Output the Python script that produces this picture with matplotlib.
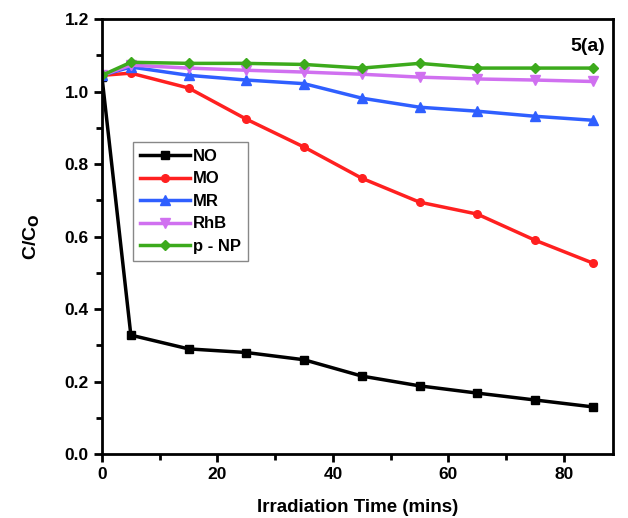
import matplotlib.pyplot as plt
from matplotlib.ticker import MultipleLocator

plt.rcParams['font.family'] = ['Liberation Sans', 'DejaVu Sans']
plt.rcParams['font.weight'] = 'bold'

tiempo = [0, 5, 15, 25, 35, 45, 55, 65, 75, 85]

no = [1.04, 0.328, 0.29, 0.28, 0.26, 0.215, 0.188, 0.168, 0.149, 0.13]
mo = [1.045, 1.051, 1.01, 0.924, 0.847, 0.761, 0.695, 0.662, 0.59, 0.527]
mr = [1.045, 1.068, 1.045, 1.032, 1.022, 0.982, 0.957, 0.946, 0.932, 0.921]
rhb = [1.045, 1.073, 1.065, 1.059, 1.054, 1.048, 1.04, 1.035, 1.032, 1.028]
pnp = [1.045, 1.081, 1.078, 1.078, 1.075, 1.065, 1.078, 1.065, 1.065, 1.065]

etiquetas = ['NO', 'MO', 'MR', 'RhB', 'p - NP']


def graficar():
    fig = plt.figure(figsize=(6.28, 5.18), dpi=100)
    ax = fig.add_axes([0.1624, 0.1236, 0.8136, 0.8394])

    ax.plot(tiempo, no, color='black', marker='s', ms=5.5, lw=2.5, label=etiquetas[0])
    ax.plot(tiempo, mo, color='#ff2020', marker='o', ms=5.5, lw=2.5, label=etiquetas[1])
    ax.plot(tiempo, mr, color='#2f5fff', marker='^', ms=6.5, lw=2.5, label=etiquetas[2])
    ax.plot(tiempo, rhb, color='#d070f0', marker='v', ms=6.5, lw=2.5, label=etiquetas[3])
    ax.plot(tiempo, pnp, color='#3caa1c', marker='D', ms=5.5, lw=2.5, label=etiquetas[4])

    ax.set_xlim(0, 88.5)
    ax.set_ylim(0, 1.2)
    ax.xaxis.set_major_locator(MultipleLocator(20))
    ax.xaxis.set_minor_locator(MultipleLocator(10))
    ax.yaxis.set_major_locator(MultipleLocator(0.2))
    ax.yaxis.set_minor_locator(MultipleLocator(0.1))
    ax.yaxis.set_major_formatter(plt.FormatStrFormatter('%.1f'))
    ax.tick_params(which='major', direction='out', length=6, width=2, labelsize=12.5)
    ax.tick_params(which='minor', direction='out', length=4, width=2)
    for s in ax.spines.values():
        s.set_linewidth(2)

    ax.set_xlabel('Irradiation Time (mins)', fontsize=13.5, fontweight='bold', labelpad=12)
    ax.set_ylabel('C/C$_\\mathbf{O}$', fontsize=14, fontweight='bold', labelpad=16)
    ax.text(0.985, 0.938, '5(a)', transform=ax.transAxes, ha='right', va='center',
            fontsize=14, fontweight='bold')

    ax.legend(loc='upper left', bbox_to_anchor=(0.061, 0.717), borderaxespad=0,
              fancybox=False, edgecolor='#888888', fontsize=12, handlelength=3,
              labelspacing=0.45, borderpad=0.4, handletextpad=0.2, framealpha=1)

    fig.savefig('out.png', dpi=100)


if __name__ == '__main__':
    graficar()
